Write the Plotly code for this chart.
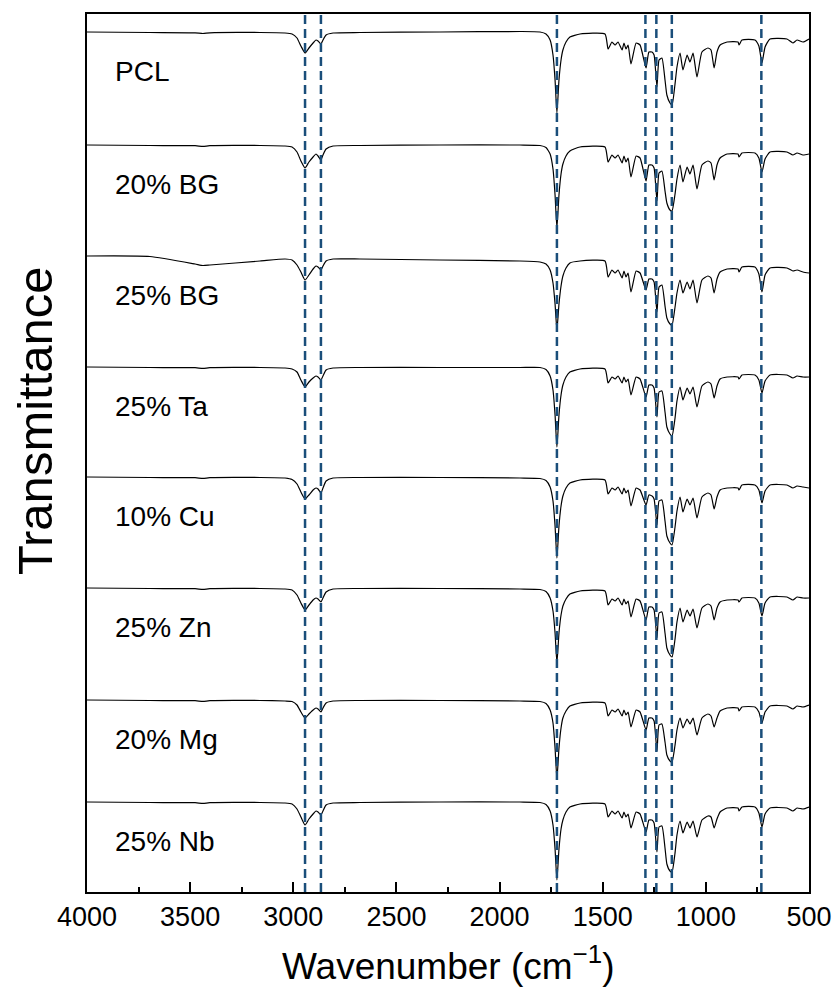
import plotly.graph_objects as go

# Shared wavenumber grid (cm^-1)
wavenumber = [4000, 3695, 3476, 3438, 3404, 3161, 3040, 3006,
              2982, 2963, 2943, 2924, 2904, 2890, 2880, 2866, 2856, 2841, 2807,
              2677, 2289, 1901, 1804,
              1775, 1755, 1741, 1731, 1722, 1712, 1702, 1693, 1678, 1659,
              1610, 1489, 1474, 1455, 1440, 1426, 1406, 1397, 1387, 1377, 1363, 1338, 1319,
              1290, 1276, 1261, 1251, 1237, 1227, 1213, 1198, 1189, 1174, 1164, 1150, 1140,
              1125, 1111, 1091, 1077, 1062, 1043, 1019, 990, 975, 960, 946, 931, 897, 844,
              839, 825, 762, 743, 728, 713, 689, 607, 578, 558, 529, 500]

# Transmittance (arbitrary %, 1 unit = read-off step) for each sample
t_pcl = [100, 99.5, 99.2, 98.5, 99.2, 99.5, 99, 98,
         94, 86, 79, 84, 89, 92, 91, 88, 92, 97, 99,
         99.5, 100, 100.5, 100,
         98, 92, 77, 52, 19, 52, 72, 82, 90, 95,
         98, 98, 83, 90, 87, 90, 82, 89, 83, 87, 68, 89, 87, 64, 80, 80, 77, 45, 72, 74,
         52, 37, 29, 27, 47, 65, 79, 62, 77, 70, 79, 55, 80, 84, 82, 64, 80, 87, 90, 90,
         87, 92, 92, 86, 69, 85, 93, 93, 89, 92, 90, 93]
t_bg20 = [100, 99.5, 99.3, 98.6, 99.3, 99.5, 99, 98,
          93, 84, 77, 83, 88, 91, 89, 85, 90, 96, 99,
          99.5, 100, 100, 99.5,
          97.5, 91, 76, 50, 17, 50, 71, 81, 89, 94,
          98, 98, 83, 90, 87, 90, 82, 89, 83, 87, 68, 89, 87, 64, 80, 80, 77, 44, 72, 74,
          54, 42, 35, 34, 50, 66, 80, 63, 78, 71, 80, 56, 80, 84, 82, 65, 80, 87, 91, 91,
          88, 92, 92, 87, 73, 86, 93, 93, 90, 92, 90, 91]
t_bg25 = [100, 99.5, 92, 90.5, 91, 95, 97, 96,
          91, 84, 76, 81, 87, 90, 89, 86, 90, 95, 97,
          97, 96, 95, 94,
          92, 86, 73, 52, 26, 52, 70, 80, 88, 93,
          95, 95, 79, 86, 83, 86, 78, 85, 79, 83, 64, 85, 83, 66, 77, 77, 74, 44, 69, 71,
          50, 38, 32, 31, 48, 63, 76, 63, 74, 67, 76, 53, 76, 80, 78, 63, 77, 84, 87, 87,
          84, 89, 89, 82, 64, 81, 88, 88, 85, 86, 84, 83]
t_ta25 = [100, 99.5, 99.3, 98.6, 99.3, 99.5, 99, 98,
          95, 87, 80, 85, 89, 91, 90, 87, 91, 97, 99,
          99.5, 99.5, 99.5, 99.5,
          97.5, 91, 77, 52, 20, 52, 72, 82, 90, 95,
          98, 98, 84, 90, 88, 91, 84, 90, 85, 88, 72, 90, 88, 70, 82, 82, 79, 50, 75, 76,
          55, 40, 33, 31, 48, 66, 80, 67, 79, 73, 80, 60, 81, 85, 83, 69, 81, 88, 90, 90,
          88, 92, 92, 87, 74, 86, 92, 92, 89, 91, 90, 90]
t_cu10 = [100, 99.5, 99.3, 98.6, 99.3, 99.5, 99, 97.5,
          93, 85, 78, 82, 87, 89, 88, 84, 89, 96, 99,
          99.5, 99.5, 99, 98.5,
          96.5, 90, 76, 51, 19, 51, 71, 81, 89, 94,
          97, 97, 83, 89, 87, 90, 83, 89, 84, 87, 71, 89, 87, 72, 82, 81, 78, 52, 76, 77,
          56, 41, 34, 32, 49, 66, 80, 65, 78, 72, 79, 59, 80, 84, 82, 68, 80, 87, 89, 89,
          87, 92, 92, 87, 74, 86, 92, 92, 89, 91, 90, 89]
t_zn25 = [100, 99.5, 99.3, 98.6, 99.3, 99.5, 99, 98,
          93, 85, 78, 83, 88, 90, 89, 86, 90, 96, 99,
          99.5, 99.5, 99, 98.5,
          96.5, 90, 77, 55, 25, 55, 73, 82, 89, 94,
          97, 97, 83, 89, 87, 90, 83, 89, 84, 87, 71, 89, 87, 68, 81, 81, 78, 50, 75, 76,
          55, 40, 33, 31, 48, 66, 80, 66, 78, 72, 79, 60, 80, 84, 82, 68, 80, 86, 88, 88,
          86, 90, 90, 85, 72, 85, 91, 91, 88, 91, 90, 90]
t_mg20 = [100, 99.5, 99.3, 98.6, 99.3, 99.5, 99, 98.5,
          95, 88, 82, 86, 90, 92, 91, 88, 92, 97, 99,
          99.5, 99.5, 99, 98.5,
          96.5, 90, 77, 52, 21, 52, 72, 82, 89, 94,
          97, 97, 84, 90, 88, 91, 84, 90, 85, 88, 73, 90, 88, 70, 82, 82, 79, 49, 75, 76,
          58, 45, 39, 38, 54, 70, 82, 72, 81, 76, 82, 65, 82, 86, 84, 73, 82, 89, 92, 92,
          89, 93, 93, 88, 77, 88, 94, 94, 91, 94, 93, 95]
t_nb25 = [100, 99.5, 99.3, 98.6, 99.3, 99.5, 99, 98,
          93, 85, 77, 83, 88, 91, 90, 87, 91, 97, 99,
          99.5, 100, 100, 99.5,
          97.5, 91, 77, 53, 22, 53, 73, 82, 90, 95,
          98, 98, 85, 91, 88, 91, 84, 90, 85, 88, 74, 90, 88, 70, 82, 82, 79, 50, 75, 76,
          54, 38, 31, 30, 48, 67, 81, 69, 80, 74, 81, 65, 82, 86, 85, 74, 83, 90, 94, 94,
          91, 95, 95, 89, 75, 88, 94, 94, 91, 94, 93, 95]

sample_names = ["PCL", "20% BG", "25% BG", "25% Ta", "10% Cu", "25% Zn", "20% Mg", "25% Nb"]
sample_values = [t_pcl, t_bg20, t_bg25, t_ta25, t_cu10, t_zn25, t_mg20, t_nb25]

# vertical stacking offsets between spectra
offsets = [0, 113, 224, 335, 445, 556, 668, 770]

# marked band positions (cm^-1)
band_lines = [2943, 2866, 1722, 1293, 1240, 1165, 731]

x_ticks = [4000, 3500, 3000, 2500, 2000, 1500, 1000, 500]

FONT = "Arial, Liberation Sans, sans-serif"

fig = go.Figure()
for name, vals, off in zip(sample_names, sample_values, offsets):
    assert len(vals) == len(wavenumber)
    fig.add_trace(go.Scatter(
        x=wavenumber, y=[v - off for v in vals], mode="lines", name=name,
        line=dict(color="black", width=1.2, shape="spline", smoothing=0.5),
        showlegend=False, hoverinfo="skip"))
    fig.add_annotation(x=3874, y=61 - off, text=name, showarrow=False,
                       xanchor="left", yanchor="middle",
                       font=dict(family=FONT, size=28, color="black"))

for wn in band_lines:
    fig.add_shape(type="line", x0=wn, x1=wn, y0=0, y1=1, xref="x", yref="paper",
                  line=dict(color="#1a4e7a", width=2.5, dash="9px,5px"), layer="above")

fig.add_annotation(x=-0.072, y=0.5364, xref="paper", yref="paper", text="Transmittance",
                   textangle=-90, showarrow=False, xanchor="center", yanchor="middle",
                   font=dict(family=FONT, size=49, color="black"))
fig.add_annotation(x=0.5, y=-0.081, xref="paper", yref="paper",
                   text="Wavenumber (cm<sup>\u22121</sup>)", showarrow=False,
                   xanchor="center", yanchor="middle",
                   font=dict(family=FONT, size=37, color="black"))

fig.update_layout(
    width=834, height=1003,
    margin=dict(l=87, r=25, t=14, b=111),
    plot_bgcolor="white", paper_bgcolor="white",
    font=dict(family=FONT, color="black"),
    xaxis=dict(range=[4000, 500], tickvals=x_ticks, ticktext=[str(t) for t in x_ticks],
               ticks="inside", ticklen=10, tickwidth=1.5, tickcolor="black",
               minor=dict(dtick=250, ticks="inside", ticklen=5, tickwidth=1.5, tickcolor="black"),
               showline=True, linewidth=2, linecolor="black", mirror=True,
               showgrid=False, zeroline=False, automargin=False,
               tickfont=dict(family=FONT, size=27, color="black")),
    yaxis=dict(range=[-760, 118], showticklabels=False, ticks="", showline=True,
               linewidth=2, linecolor="black", mirror=True, showgrid=False, zeroline=False,
               automargin=False),
)

fig.write_html("out.html")
